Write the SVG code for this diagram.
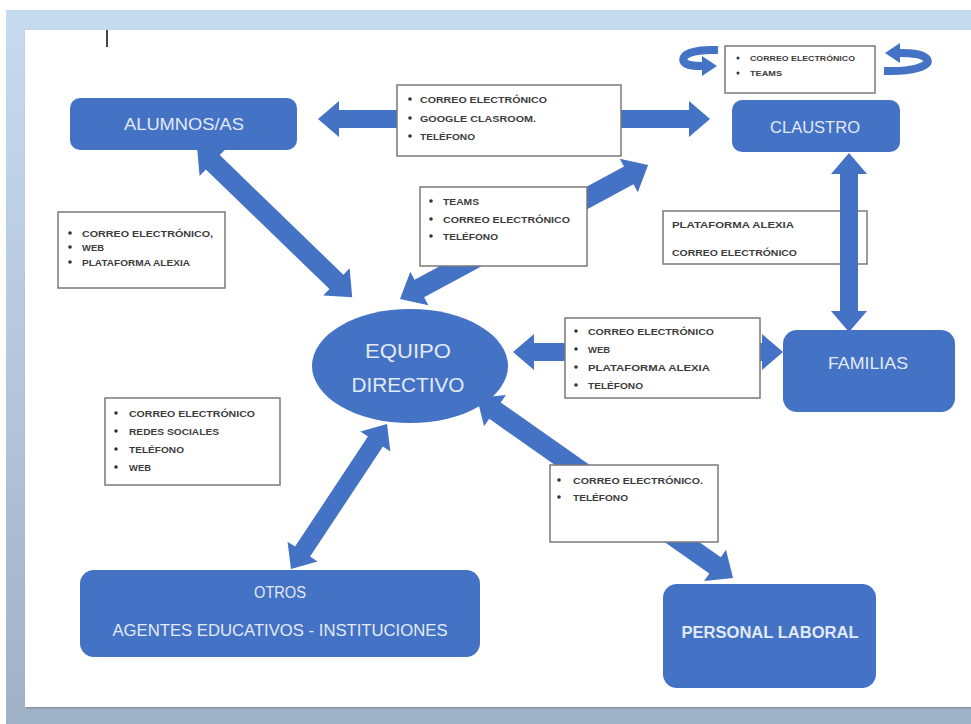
<svg xmlns="http://www.w3.org/2000/svg" width="971" height="724" viewBox="0 0 971 724">
<defs>
<linearGradient id="frame" x1="0" y1="0" x2="0" y2="1">
<stop offset="0" stop-color="#c6daf0"/>
<stop offset="0.5" stop-color="#b4c7dc"/>
<stop offset="1" stop-color="#9fb1c6"/>
</linearGradient>
<filter id="sh" x="-5%" y="-5%" width="110%" height="110%">
<feDropShadow dx="1" dy="1" stdDeviation="1" flood-color="#000" flood-opacity="0.25"/>
</filter>
</defs>
<style>
.node{fill:#4472c4}
.nt{font-family:"Liberation Sans",Arial,sans-serif;fill:#e2eaf6;text-anchor:middle}
.arr{fill:#4472c4}
.box{fill:#fff;stroke:#7a7a7a;stroke-width:1.5}
.t{font-family:"Liberation Sans",Arial,sans-serif;font-size:9.5px;font-weight:bold;fill:#3c3c3c}
.ts{font-family:"Liberation Sans",Arial,sans-serif;font-size:7.5px;font-weight:bold;fill:#3c3c3c}
.b{fill:#333}
</style>
<rect x="0" y="0" width="971" height="724" fill="#fff"/>
<rect x="6" y="10" width="965" height="714" fill="url(#frame)"/>
<rect x="25" y="30" width="946" height="677" fill="#fff" filter="url(#sh)"/>
<rect x="106" y="30" width="2" height="17" fill="#444"/>

<g id="lbl-claustro-familias">
<rect class="box" x="663" y="211" width="204" height="53"/>
<text class="t" x="672" y="228" textLength="122" lengthAdjust="spacingAndGlyphs">PLATAFORMA ALEXIA</text>
<text class="t" x="672" y="256" textLength="125" lengthAdjust="spacingAndGlyphs">CORREO ELECTRÓNICO</text>
</g>

<g id="connectors">
<path class="arr" transform="translate(318,119)" d="M0,0 L21,-18 L21,-9 L371,-9 L371,-18 L392,0 L371,18 L371,9 L21,9 L21,18 Z"/>
<path class="arr" transform="translate(197,147) rotate(44.06)" d="M0,0 L22,-19 L22,-10 L194,-10 L194,-19 L216,0 L194,19 L194,10 L22,10 L22,19 Z"/>
<path class="arr" transform="translate(400,299) rotate(-28.38)" d="M0,0 L22,-19 L22,-10 L260,-10 L260,-19 L282,0 L260,19 L260,10 L22,10 L22,19 Z"/>
<path class="arr" transform="translate(849,153) rotate(90)" d="M0,0 L21,-18 L21,-9 L158,-9 L158,-18 L179,0 L158,18 L158,9 L21,9 L21,18 Z"/>
<path class="arr" transform="translate(513,352)" d="M0,0 L21,-18 L21,-9 L249,-9 L249,-18 L270,0 L249,18 L249,9 L21,9 L21,18 Z"/>
<path class="arr" transform="translate(477,398) rotate(35.11)" d="M0,0 L22,-19 L22,-10 L291,-10 L291,-19 L313,0 L291,19 L291,10 L22,10 L22,19 Z"/>
<path class="arr" transform="translate(387,424) rotate(123.5)" d="M0,0 L21,-18 L21,-9 L153,-9 L153,-18 L174,0 L153,18 L153,9 L21,9 L21,18 Z"/>
<path d="M718,50 C692,49 680,55 684,62 C687,66 695,66 703,66" fill="none" stroke="#4472c4" stroke-width="8"/>
<polygon class="arr" points="702,56 717,66 702,76"/>
<path d="M884,71 C912,72 932,66 927,59 C923,54 914,53 899,53" fill="none" stroke="#4472c4" stroke-width="8"/>
<polygon class="arr" points="900,43 885,53 900,63"/>
</g>

<g id="lbl-alumnos-claustro">
<rect class="box" x="397" y="85" width="224" height="71"/>
<circle class="b" cx="410" cy="99" r="1.8"/><text class="t" x="420" y="102.5" textLength="127" lengthAdjust="spacingAndGlyphs">CORREO ELECTRÓNICO</text>
<circle class="b" cx="410" cy="118" r="1.8"/><text class="t" x="420" y="121.5" textLength="116" lengthAdjust="spacingAndGlyphs">GOOGLE CLASROOM.</text>
<circle class="b" cx="410" cy="136" r="1.8"/><text class="t" x="420" y="139.5" textLength="55" lengthAdjust="spacingAndGlyphs">TELÉFONO</text>
</g>

<g id="lbl-claustro-self">
<rect class="box" x="725" y="46" width="150" height="47"/>
<circle class="b" cx="738" cy="58" r="1.5"/><text class="ts" x="750" y="61" textLength="105" lengthAdjust="spacingAndGlyphs">CORREO ELECTRÓNICO</text>
<circle class="b" cx="738" cy="73" r="1.5"/><text class="ts" x="750" y="76" textLength="32" lengthAdjust="spacingAndGlyphs">TEAMS</text>
</g>

<g id="lbl-equipo-claustro">
<rect class="box" x="420" y="187" width="167" height="79"/>
<circle class="b" cx="431" cy="201" r="1.8"/><text class="t" x="443" y="204.5" textLength="36" lengthAdjust="spacingAndGlyphs">TEAMS</text>
<circle class="b" cx="431" cy="219" r="1.8"/><text class="t" x="443" y="222.5" textLength="127" lengthAdjust="spacingAndGlyphs">CORREO ELECTRÓNICO</text>
<circle class="b" cx="431" cy="236" r="1.8"/><text class="t" x="443" y="239.5" textLength="55" lengthAdjust="spacingAndGlyphs">TELÉFONO</text>
</g>

<g id="lbl-alumnos-equipo">
<rect class="box" x="58" y="212" width="167" height="76"/>
<circle class="b" cx="70" cy="233" r="1.8"/><text class="t" x="82" y="236.5" textLength="131" lengthAdjust="spacingAndGlyphs">CORREO ELECTRÓNICO,</text>
<circle class="b" cx="70" cy="247" r="1.8"/><text class="t" x="82" y="250.5" textLength="22" lengthAdjust="spacingAndGlyphs">WEB</text>
<circle class="b" cx="70" cy="262" r="1.8"/><text class="t" x="82" y="265.5" textLength="108" lengthAdjust="spacingAndGlyphs">PLATAFORMA ALEXIA</text>
</g>

<g id="lbl-equipo-familias">
<rect class="box" x="565" y="318" width="195" height="80"/>
<circle class="b" cx="576" cy="331" r="1.8"/><text class="t" x="588" y="334.5" textLength="126" lengthAdjust="spacingAndGlyphs">CORREO ELECTRÓNICO</text>
<circle class="b" cx="576" cy="349" r="1.8"/><text class="t" x="588" y="352.5" textLength="22" lengthAdjust="spacingAndGlyphs">WEB</text>
<circle class="b" cx="576" cy="367" r="1.8"/><text class="t" x="588" y="370.5" textLength="122" lengthAdjust="spacingAndGlyphs">PLATAFORMA ALEXIA</text>
<circle class="b" cx="576" cy="385" r="1.8"/><text class="t" x="588" y="388.5" textLength="55" lengthAdjust="spacingAndGlyphs">TELÉFONO</text>
</g>

<g id="lbl-equipo-otros">
<rect class="box" x="105" y="398" width="175" height="87"/>
<circle class="b" cx="116" cy="413" r="1.8"/><text class="t" x="129" y="416.5" textLength="126" lengthAdjust="spacingAndGlyphs">CORREO ELECTRÓNICO</text>
<circle class="b" cx="116" cy="431" r="1.8"/><text class="t" x="129" y="434.5" textLength="90" lengthAdjust="spacingAndGlyphs">REDES SOCIALES</text>
<circle class="b" cx="116" cy="449" r="1.8"/><text class="t" x="129" y="452.5" textLength="55" lengthAdjust="spacingAndGlyphs">TELÉFONO</text>
<circle class="b" cx="116" cy="467" r="1.8"/><text class="t" x="129" y="470.5" textLength="22" lengthAdjust="spacingAndGlyphs">WEB</text>
</g>

<g id="lbl-equipo-personal">
<rect class="box" x="550" y="465" width="168" height="77"/>
<circle class="b" cx="559" cy="480" r="1.8"/><text class="t" x="573" y="483.5" textLength="130" lengthAdjust="spacingAndGlyphs">CORREO ELECTRÓNICO.</text>
<circle class="b" cx="559" cy="497" r="1.8"/><text class="t" x="573" y="500.5" textLength="55" lengthAdjust="spacingAndGlyphs">TELÉFONO</text>
</g>

<g id="alumnos">
<rect class="node" x="70" y="98" width="227" height="52" rx="10"/>
<text class="nt" x="184" y="130" font-size="17" textLength="120" lengthAdjust="spacingAndGlyphs">ALUMNOS/AS</text>
</g>
<g id="claustro">
<rect class="node" x="732" y="100" width="168" height="52" rx="10"/>
<text class="nt" x="815" y="133" font-size="17" textLength="90" lengthAdjust="spacingAndGlyphs">CLAUSTRO</text>
</g>
<g id="equipo">
<ellipse class="node" cx="410" cy="366" rx="98" ry="57"/>
<text class="nt" x="408" y="358" font-size="21" textLength="86" lengthAdjust="spacingAndGlyphs">EQUIPO</text>
<text class="nt" x="408" y="392" font-size="20" textLength="113" lengthAdjust="spacingAndGlyphs">DIRECTIVO</text>
</g>
<g id="familias">
<rect class="node" x="783" y="330" width="172" height="82" rx="14"/>
<text class="nt" x="868" y="369" font-size="17" textLength="80" lengthAdjust="spacingAndGlyphs">FAMILIAS</text>
</g>
<g id="otros">
<rect class="node" x="80" y="570" width="400" height="87" rx="14"/>
<text class="nt" x="280" y="598" font-size="16" textLength="52" lengthAdjust="spacingAndGlyphs">OTROS</text>
<text class="nt" x="280" y="636" font-size="16" textLength="335" lengthAdjust="spacingAndGlyphs">AGENTES EDUCATIVOS - INSTITUCIONES</text>
</g>
<g id="personal">
<rect class="node" x="663" y="584" width="213" height="104" rx="14"/>
<text class="nt" x="770" y="638" font-size="16" font-weight="bold" textLength="177" lengthAdjust="spacingAndGlyphs">PERSONAL LABORAL</text>
</g>
</svg>
